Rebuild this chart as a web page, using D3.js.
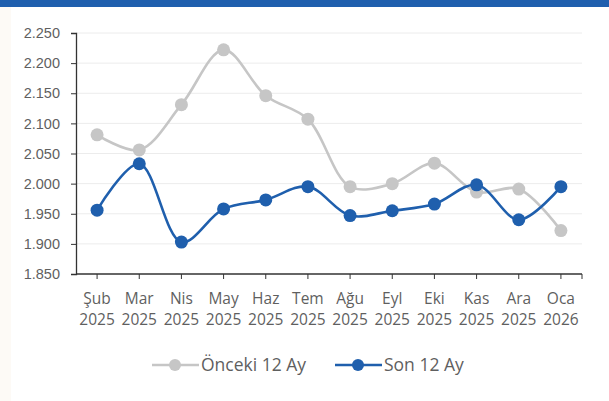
<!DOCTYPE html>
<html>
<head>
<meta charset="utf-8">
<script src="https://cdn.jsdelivr.net/npm/d3@7"></script>
<style>
  body { margin: 0; background: #fff; }
  svg { display: block; font-family: "Open Sans", "Liberation Sans", sans-serif; }
</style>
</head>
<body>
<svg width="609" height="401"></svg>
<script>
const months = ['Şub', 'Mar', 'Nis', 'May', 'Haz', 'Tem', 'Ağu', 'Eyl', 'Eki', 'Kas', 'Ara', 'Oca'];
const years = ['2025', '2025', '2025', '2025', '2025', '2025', '2025', '2025', '2025', '2025', '2025', '2026'];
const onceki = [2.081, 2.056, 2.131, 2.222, 2.146, 2.107, 1.995, 2.000, 2.034, 1.986, 1.991, 1.922];
const son = [1.956, 2.033, 1.903, 1.958, 1.973, 1.995, 1.947, 1.955, 1.966, 1.998, 1.940, 1.995];
const yTicks = [1.85, 1.9, 1.95, 2.0, 2.05, 2.1, 2.15, 2.2, 2.25];

const width = 609;
const height = 401;
const margin = { top: 33, right: 27, bottom: 127, left: 76 };
const grey = '#c6c6c6';
const blue = '#1f5fad';
const textColor = '#5f5f5f';

const svg = d3.select('svg');

// top band + faint left strip
svg.append('rect').attr('x', 0).attr('y', 0).attr('width', width).attr('height', 7).attr('fill', '#1f5fae');
svg.append('rect').attr('x', 0).attr('y', 7).attr('width', 11).attr('height', height - 7).attr('fill', '#fdfaf6');

const x = d3.scalePoint()
  .domain(d3.range(months.length))
  .range([margin.left, width - margin.right])
  .padding(0.5);

const y = d3.scaleLinear()
  .domain([1.85, 2.25])
  .range([height - margin.bottom, margin.top]);

const fmt = d3.format('.3f');

// gridlines
svg.append('g').selectAll('line')
  .data(yTicks.slice(1))
  .enter().append('line')
    .attr('x1', margin.left)
    .attr('x2', width - margin.right)
    .attr('y1', d => y(d))
    .attr('y2', d => y(d))
    .attr('stroke', '#ececec')
    .attr('stroke-width', 1);

// y axis
const yAxis = svg.append('g')
  .attr('transform', `translate(${margin.left},0)`)
  .call(d3.axisLeft(y).tickValues(yTicks).tickFormat(fmt).tickSize(5).tickPadding(11));
yAxis.select('.domain').attr('stroke', '#333').attr('stroke-width', 1.3);
yAxis.selectAll('.tick line').attr('stroke', '#333');
yAxis.selectAll('text').attr('fill', textColor).style('font-size', '14.5px');

// x axis
const xAxis = svg.append('g').attr('transform', `translate(0,${height - margin.bottom})`);
xAxis.append('line')
  .attr('x1', margin.left).attr('x2', width - margin.right)
  .attr('stroke', '#333').attr('stroke-width', 1.3);
xAxis.selectAll('.tk')
  .data(d3.range(months.length).map(i => x(i)).concat([width - margin.right]))
  .enter().append('line')
    .attr('x1', d => d).attr('x2', d => d)
    .attr('y1', 0).attr('y2', 5)
    .attr('stroke', '#333');
const lab = xAxis.selectAll('.lab')
  .data(months)
  .enter().append('text')
    .attr('text-anchor', 'middle')
    .attr('fill', textColor)
    .style('font-size', '15.5px');
lab.append('tspan').attr('x', (d, i) => x(i)).attr('y', 30).text(d => d);
lab.append('tspan').attr('x', (d, i) => x(i)).attr('y', 51).text((d, i) => years[i]);

const line = d3.line()
  .x((d, i) => x(i))
  .y(d => y(d))
  .curve(d3.curveCatmullRom.alpha(0.5));

function drawSeries(values, color) {
  svg.append('path')
    .datum(values)
    .attr('d', line)
    .attr('fill', 'none')
    .attr('stroke', color)
    .attr('stroke-width', 2.6);
  svg.append('g').selectAll('circle')
    .data(values)
    .enter().append('circle')
      .attr('cx', (d, i) => x(i))
      .attr('cy', d => y(d))
      .attr('r', 6.5)
      .attr('fill', color);
}

drawSeries(onceki, grey);
drawSeries(son, blue);

// legend
const legend = [
  { name: 'Önceki 12 Ay', color: grey, x: 152 },
  { name: 'Son 12 Ay', color: blue, x: 335 }
];
const lg = svg.append('g').selectAll('g')
  .data(legend)
  .enter().append('g')
    .attr('transform', d => `translate(${d.x},365)`);
lg.append('line')
  .attr('x1', 0).attr('x2', 47)
  .attr('stroke', d => d.color).attr('stroke-width', 2.6);
lg.append('circle')
  .attr('cx', 23).attr('r', 6).attr('fill', d => d.color);
lg.append('text')
  .attr('x', 49).attr('dy', '0.35em')
  .attr('fill', textColor)
  .style('font-size', '17.5px')
  .text(d => d.name);
</script>
</body>
</html>
